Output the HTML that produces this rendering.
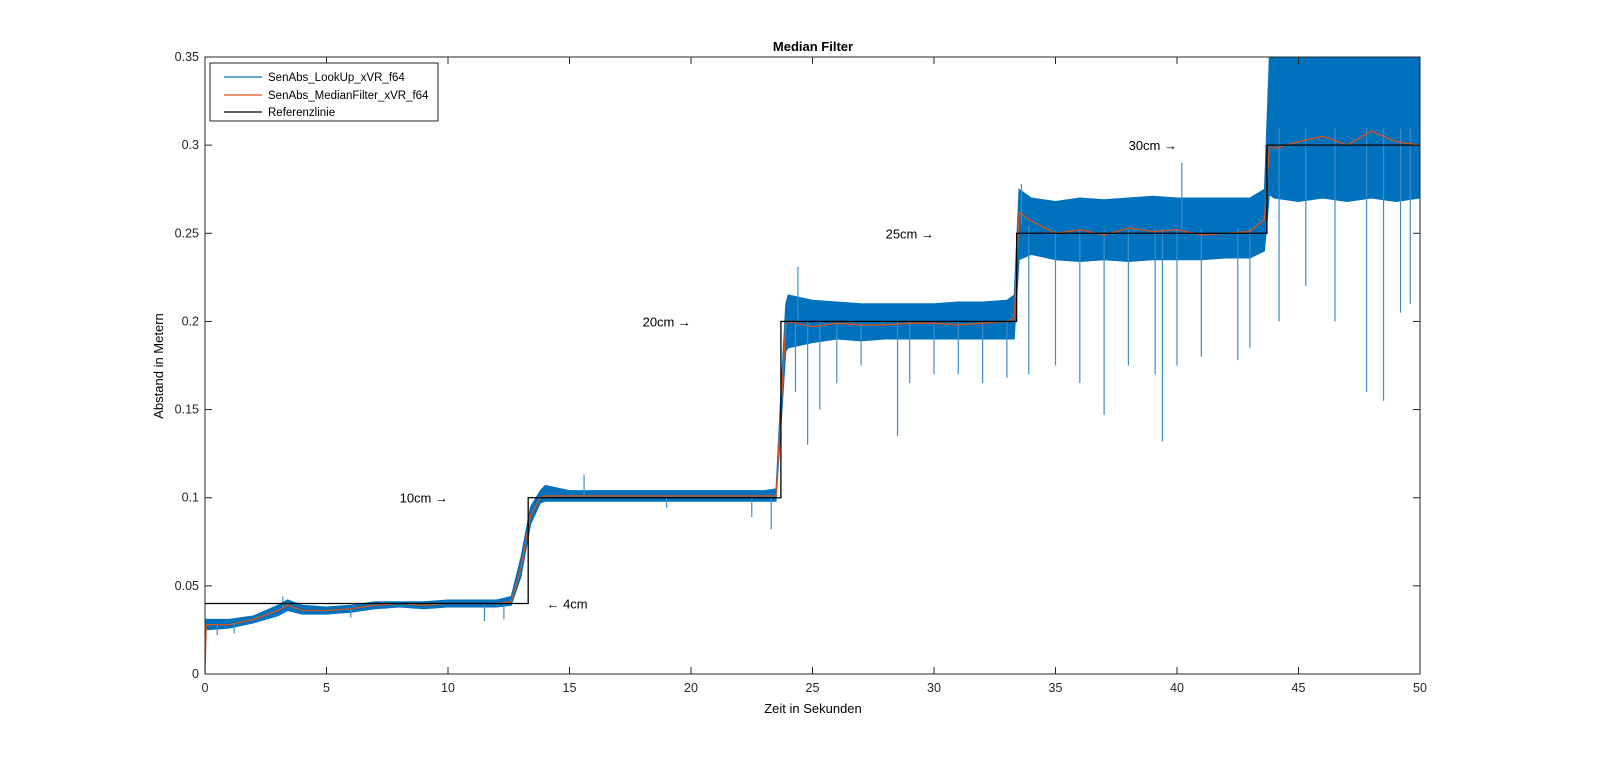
<!DOCTYPE html>
<html><head><meta charset="utf-8"><style>
body{margin:0;background:#fff;}
svg{display:block;font-family:"Liberation Sans",Arial,sans-serif;}
</style></head><body>
<svg id="chart" width="1600" height="772" viewBox="0 0 1600 772">
<defs><clipPath id="pc"><rect x="205" y="57" width="1215" height="617"/></clipPath></defs>
<rect x="0" y="0" width="1600" height="772" fill="#fff"/>
<g id="plot" clip-path="url(#pc)"></g>
<g id="axes"></g>
<text x="813" y="51" text-anchor="middle" font-size="13" font-weight="bold">Median Filter</text>
<text x="813" y="713" text-anchor="middle" font-size="13">Zeit in Sekunden</text>
<text transform="translate(163,366) rotate(-90)" text-anchor="middle" font-size="13">Abstand in Metern</text>
<g id="annots" font-size="13"></g>
<g>
<rect x="210" y="63" width="228" height="58" fill="#fff" stroke="#262626" stroke-width="1"/>
<line x1="224" y1="77" x2="262" y2="77" stroke="#0072BD" stroke-width="1.2"/>
<text x="268" y="81" font-size="11.5">SenAbs_LookUp_xVR_f64</text>
<line x1="224" y1="95" x2="262" y2="95" stroke="#D95319" stroke-width="1.2"/>
<text x="268" y="99" font-size="11.5">SenAbs_MedianFilter_xVR_f64</text>
<line x1="224" y1="112" x2="262" y2="112" stroke="#000" stroke-width="1.2"/>
<text x="268" y="116" font-size="11.5">Referenzlinie</text>
</g>
</svg>
<script>
const xTicks=[0,5,10,15,20,25,30,35,40,45,50];
const yTicks=[0,0.05,0.1,0.15,0.2,0.25,0.3,0.35];
const yTickLabels=["0","0.05","0.1","0.15","0.2","0.25","0.3","0.35"];
const envTime=[0,1,2,3,3.4,4,5,6,7,8,9,10,11,12,12.6,13.0,13.4,13.8,14,15,16,17,18,19,20,21,22,23,23.5,23.7,23.9,24,25,26,27,28,29,30,31,32,33,33.3,33.5,34,35,36,37,38,39,40,41,42,43,43.6,43.8,44,45,46,47,48,49,50];
const envLow=[0.025,0.026,0.029,0.033,0.036,0.034,0.034,0.035,0.037,0.038,0.037,0.038,0.038,0.038,0.039,0.055,0.085,0.097,0.098,0.098,0.098,0.098,0.098,0.098,0.098,0.098,0.098,0.098,0.098,0.14,0.183,0.185,0.188,0.19,0.189,0.19,0.19,0.19,0.19,0.19,0.19,0.19,0.235,0.238,0.235,0.234,0.235,0.234,0.235,0.235,0.235,0.236,0.236,0.24,0.272,0.27,0.268,0.27,0.268,0.27,0.268,0.27];
const envHigh=[0.031,0.031,0.033,0.039,0.042,0.039,0.038,0.039,0.041,0.041,0.041,0.042,0.042,0.042,0.044,0.066,0.095,0.104,0.107,0.104,0.104,0.104,0.104,0.104,0.104,0.104,0.104,0.104,0.105,0.16,0.21,0.215,0.212,0.211,0.21,0.21,0.21,0.21,0.211,0.211,0.212,0.215,0.275,0.27,0.268,0.27,0.269,0.27,0.271,0.27,0.27,0.27,0.27,0.275,0.35,0.35,0.35,0.35,0.35,0.35,0.35,0.35];
const medTime=[0,0.05,1,2,3,3.4,4,5,6,7,8,9,10,11,12,12.6,13.0,13.4,13.8,14,16,18,20,22,23.5,23.7,23.9,24,25,26,27,28,29,30,31,32,33,33.3,33.5,34,35,36,37,38,39,40,41,42,43,43.6,43.8,44,45,46,47,48,49,50];
const medVal=[0,0.028,0.028,0.031,0.036,0.039,0.036,0.036,0.037,0.039,0.04,0.039,0.04,0.04,0.04,0.041,0.06,0.09,0.1,0.101,0.101,0.101,0.101,0.101,0.101,0.15,0.198,0.2,0.197,0.199,0.198,0.198,0.199,0.199,0.198,0.199,0.2,0.202,0.262,0.257,0.25,0.252,0.249,0.253,0.251,0.252,0.249,0.25,0.251,0.258,0.3,0.298,0.302,0.305,0.3,0.308,0.302,0.3];
const spikeTime=[0.5,1.2,3.2,6,11.5,12.3,15.6,19,22.5,23.3,24.3,24.4,24.8,25.3,26,27,28.5,29,30,31,32,33,33.6,33.9,35,36,37,38,39.1,39.4,40,40.2,41,42.5,43,44.2,45.3,46.5,47.8,48.5,49.2,49.6];
const spikeVal=[0.022,0.023,0.044,0.032,0.03,0.031,0.113,0.094,0.089,0.082,0.16,0.231,0.13,0.15,0.165,0.175,0.135,0.165,0.17,0.17,0.165,0.168,0.278,0.17,0.175,0.165,0.147,0.175,0.17,0.132,0.175,0.29,0.18,0.178,0.185,0.2,0.22,0.2,0.16,0.155,0.205,0.21];
const refTime=[0,13.3,13.3,23.7,23.7,33.4,33.4,43.7,43.7,50];
const refVal=[0.04,0.04,0.1,0.1,0.2,0.2,0.25,0.25,0.3,0.3];
const annText=["10cm \u2192","\u2190 4cm","20cm \u2192","25cm \u2192","30cm \u2192"];
const annX=[10,14.9,20,30,40];
const annY=[0.1,0.04,0.2,0.25,0.3];
const annAnchor=["end","middle","end","end","end"];

const NS="http://www.w3.org/2000/svg";
const X0=205,X1=1420,Y0=674,Y1=57;
const xs=t=>X0+(t-0)/(50-0)*(X1-X0);
const ys=v=>Y0-(v-0)/(0.35-0)*(Y0-Y1);
function mk(tag,attrs,parent){const e=document.createElementNS(NS,tag);for(const k in attrs)e.setAttribute(k,attrs[k]);parent.appendChild(e);return e;}
const plot=document.getElementById('plot'),axes=document.getElementById('axes'),ann=document.getElementById('annots');

let pts=envTime.map((t,i)=>xs(t)+','+ys(envHigh[i]));
for(let i=envTime.length-1;i>=0;i--)pts.push(xs(envTime[i])+','+ys(envLow[i]));
const band=mk('polygon',{points:pts.join(' '),fill:'#0072BD',stroke:'#0072BD','stroke-width':1},plot);


spikeTime.forEach((t,i)=>{
  let j=0;while(j<envTime.length-1&&envTime[j+1]<t)j++;
  const f=(t-envTime[j])/((envTime[j+1]-envTime[j])||1);
  const mid=(envLow[j]+(envLow[j+1]-envLow[j])*f+envHigh[j]+(envHigh[j+1]-envHigh[j])*f)/2;
  const l=mk('line',{x1:xs(t),x2:xs(t),y1:ys(mid),y2:ys(spikeVal[i]),stroke:'#3d8fca','stroke-width':1.2},plot);
  
  
});
const med=mk('polyline',{points:medTime.map((t,i)=>xs(t)+','+ys(medVal[i])).join(' '),fill:'none',stroke:'#D95319','stroke-width':1.3},plot);


const ref=mk('polyline',{points:refTime.map((t,i)=>xs(t)+','+ys(refVal[i])).join(' '),fill:'none',stroke:'#000','stroke-width':1.3},plot);



const box=mk('rect',{x:X0,y:Y1,width:X1-X0,height:Y0-Y1,fill:'none',stroke:'#262626','stroke-width':1},axes);


xTicks.forEach(t=>{
  const x=xs(t);
  mk('line',{x1:x,x2:x,y1:Y0,y2:Y0-7,stroke:'#262626'},axes);
  mk('line',{x1:x,x2:x,y1:Y1,y2:Y1+7,stroke:'#262626'},axes);
  const tx=mk('text',{x:x,y:Y0+18,'text-anchor':'middle','font-size':12.5,fill:'#262626'},axes);
  tx.textContent=String(t);
  
  
});
yTicks.forEach((v,i)=>{
  const y=ys(v);
  mk('line',{x1:X0,x2:X0+7,y1:y,y2:y,stroke:'#262626'},axes);
  mk('line',{x1:X1,x2:X1-7,y1:y,y2:y,stroke:'#262626'},axes);
  const tx=mk('text',{x:X0-6,y:y+4,'text-anchor':'end','font-size':12.5,fill:'#262626'},axes);
  tx.textContent=yTickLabels[i];
  
  
});
annText.forEach((s,i)=>{
  const tx=mk('text',{x:xs(annX[i]),y:ys(annY[i])+5,'text-anchor':annAnchor[i]},ann);
  tx.textContent=s;
  
  
});
</script>
</body></html>
